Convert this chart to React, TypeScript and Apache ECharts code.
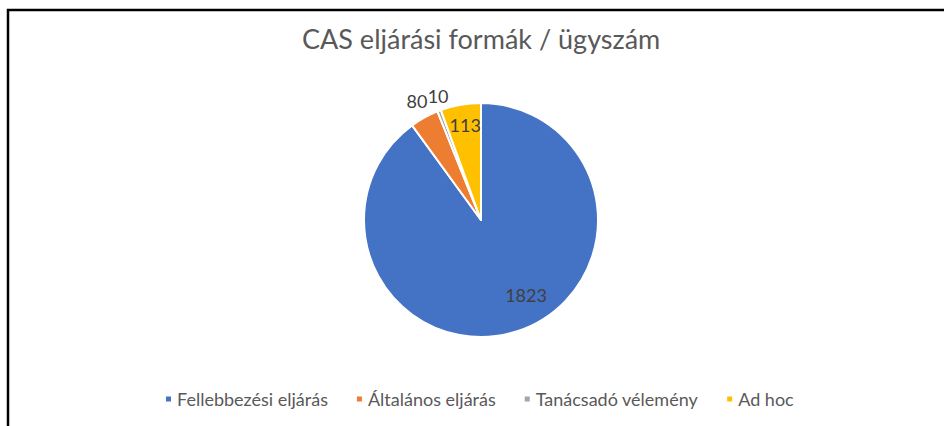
import React, { useEffect, useRef } from "react";
import * as echarts from "echarts";

const categories = ["Fellebbezési eljárás", "Általános eljárás", "Tanácsadó vélemény", "Ad hoc"];
const values = [1823, 80, 10, 113];
const colors = ["#4472C4", "#ED7D31", "#A5A5A5", "#FFC000"];
const titleText = "CAS eljárási formák / ügyszám";

const FONT = "Lato, 'Open Sans', sans-serif";

// label placement per slice (Excel "best fit" look)
const labelCfg: any[] = [
  { position: "inside", offset: [26, 17] },
  { position: "outside", offset: [13, -8] },
  { position: "outside", offset: [18, -5] },
  { position: "inside", offset: [-5, -34] },
];

export default function App() {
  const ref = useRef<HTMLDivElement>(null);
  useEffect(() => {
    if (!ref.current) return;
    const chart = echarts.init(ref.current, undefined, { renderer: "svg" });
    chart.setOption({
      animation: false,
      backgroundColor: "#ffffff",
      title: {
        text: titleText,
        left: 297,
        top: 20,
        textStyle: { fontFamily: FONT, fontSize: 27, fontWeight: "normal", color: "#595959" },
      },
      legend: {
        data: categories,
        left: 159,
        top: 385,
        icon: "rect",
        itemWidth: 7,
        itemHeight: 7,
        itemGap: 27,
        textStyle: { fontFamily: FONT, fontSize: 18, color: "#595959" },
      },
      graphic: [
        {
          type: "polyline",
          shape: { points: [[8, 426], [8, 10], [944, 10]] },
          style: { stroke: "#000", lineWidth: 2.5, fill: "none" },
          silent: true,
        },
      ],
      series: [
        {
          type: "pie",
          center: [481, 220],
          radius: [0, 117],
          startAngle: 90,
          clockwise: true,
          avoidLabelOverlap: false,
          labelLayout: { hideOverlap: false },
          itemStyle: { borderColor: "#ffffff", borderWidth: 2 },
          labelLine: { show: false, length: 10, length2: 0 },
          label: {
            show: true,
            fontFamily: FONT,
            fontSize: 18,
            color: "#404040",
            formatter: "{c}",
          },
          data: categories.map((name, i) => ({
            name,
            value: values[i],
            itemStyle: { color: colors[i] },
            label: labelCfg[i],
          })),
        },
      ],
    });
    return () => chart.dispose();
  }, []);
  return (
    <div
      ref={ref}
      style={{ position: "fixed", left: 0, top: 0, width: 944, height: 426 }}
    />
  );
}
